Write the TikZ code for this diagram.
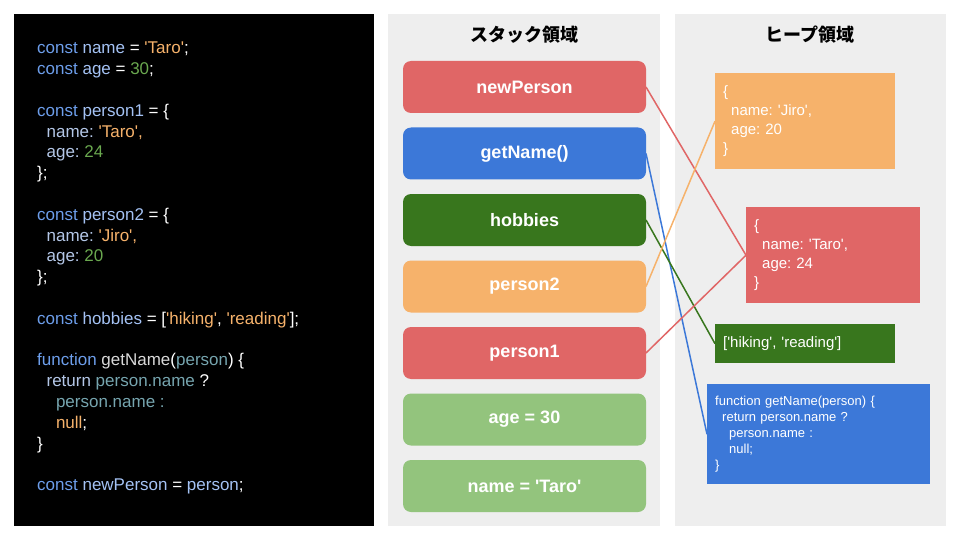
\documentclass[tikz,border=0pt]{standalone}
\usepackage{xcolor}
\usepackage{fontspec}
\setmainfont{Liberation Sans}
\newfontfamily\jpfont{Noto Sans CJK JP}
\usepackage{tikz}
\usetikzlibrary{positioning}
\frenchspacing

\definecolor{panelgray}{HTML}{EEEEEE}
\definecolor{slred}{HTML}{E06666}
\definecolor{slblue}{HTML}{3C78D8}
\definecolor{slgreen}{HTML}{38761D}
\definecolor{slorange}{HTML}{F6B26B}
\definecolor{sllime}{HTML}{93C47D}
\definecolor{ckwc}{HTML}{6D9EEB}
\definecolor{cidc}{HTML}{A4C2F4}
\definecolor{cpropc}{HTML}{B4C7E7}
\definecolor{cstrc}{HTML}{F6B26B}
\definecolor{cnumc}{HTML}{6AA84F}
\definecolor{cparc}{HTML}{76A5AF}
\definecolor{cfnc}{HTML}{D9D9D9}

\newcommand{\sqt}{\textquotesingle}
\newcommand{\ckw}[1]{\textcolor{ckwc}{#1}}
\newcommand{\cid}[1]{\textcolor{cidc}{#1}}
\newcommand{\cprop}[1]{\textcolor{cpropc}{#1}}
\newcommand{\cstr}[1]{\textcolor{cstrc}{#1}}
\newcommand{\cnum}[1]{\textcolor{cnumc}{#1}}
\newcommand{\cpar}[1]{\textcolor{cparc}{#1}}
\newcommand{\cfn}[1]{\textcolor{cfnc}{#1}}
\newcommand{\ind}{\hspace*{9.4pt}}

\tikzstyle{ref} = [line width=1.5pt]
\tikzstyle{slot} = [rectangle, rounded corners=8pt, minimum width=243pt, minimum height=52pt, outer sep=0pt, text centered, text=white, font=\fontsize{18}{20}\selectfont\bfseries]
\tikzstyle{obj} = [rectangle, anchor=north west, inner xsep=8pt, inner ysep=0pt, align=left, text=white, font=\fontsize{15}{19}\selectfont]
\tikzstyle{title} = [font=\jpfont\fontsize{18}{22}\selectfont\bfseries]

\begin{document}
\begin{tikzpicture}[x=1pt, y=-1pt]
    \useasboundingbox (0,0) rectangle (960,540);
    % Panels
    \fill[black] (14,14) rectangle (374,526);
    \fill[panelgray] (388,14) rectangle (660,526);
    \fill[panelgray] (675,14) rectangle (946,526);
    \node[title] (stacktitle) at (524,35) {スタック領域};
    \node[title] (heaptitle) at (810,35) {ヒープ領域};

    % Code
    \node[anchor=north west, inner sep=0pt, align=left, text=white, font=\fontsize{17}{20.8}\selectfont] (code) at (37,42) {%
        \ckw{const} \cid{name} = \cstr{\sqt Taro\sqt};\\
        \ckw{const} \cid{age} = \cnum{30};\\
        \mbox{}\\
        \ckw{const} \cid{person1} = \{\\
        \ind\cprop{name:} \cstr{\sqt Taro\sqt,}\\
        \ind\cprop{age:} \cnum{24}\\
        \};\\
        \mbox{}\\
        \ckw{const} \cid{person2} = \{\\
        \ind\cprop{name:} \cstr{\sqt Jiro\sqt,}\\
        \ind\cprop{age:} \cnum{20}\\
        \};\\
        \mbox{}\\
        \ckw{const} \cid{hobbies} = [\cstr{\sqt hiking\sqt}, \cstr{\sqt reading\sqt}];\\
        \mbox{}\\
        \ckw{function} \cfn{getName}(\cpar{person}) \{\\
        \ind\cprop{return} \cpar{person.name} ?\\
        \ind\ind\cpar{person.name :}\\
        \ind\ind\cstr{null};\\
        \}\\
        \mbox{}\\
        \ckw{const} \cid{newPerson} = \cid{person};};

    % Stack
    \node[slot, fill=slred] (newperson) at (524.5,87) {newPerson};
    \node[slot, fill=slblue, below=14.5pt of newperson] (getname) {getName()};
    \node[slot, fill=slgreen, below=14.5pt of getname] (hobbies) {hobbies};
    \node[slot, fill=slorange, below=14.5pt of hobbies] (person2) {person2};
    \node[slot, fill=slred, below=14.5pt of person2] (person1) {person1};
    \node[slot, fill=sllime, below=14.5pt of person1] (age) {age = 30};
    \node[slot, fill=sllime, below=14.5pt of age] (name) {name = \sqt Taro\sqt};

    % Heap
    \node[obj, fill=slorange, text width=164pt, minimum height=96pt] (jiro) at (715,73) {\{\\\ind\kern-1.4pt name: \sqt Jiro\sqt,\\\ind\kern-1.4pt age: 20\\\}};
    \node[obj, fill=slred, text width=158pt, minimum height=96pt] (taro) at (746,207) {\{\\\ind\kern-1.4pt name: \sqt Taro\sqt,\\\ind\kern-1.4pt age: 24\\\}};
    \node[obj, fill=slgreen, text width=164pt, minimum height=39pt] (list) at (715,324) {[\sqt hiking\sqt, \sqt reading\sqt]};
    \node[obj, fill=slblue, text width=207pt, minimum height=100pt, font=\fontsize{13}{16.2}\selectfont] (func) at (707,384) {function getName(person) \{\\\hspace*{7pt}return person.name ?\\\hspace*{14pt}person.name :\\\hspace*{14pt}null;\\\}};

    % References
    \draw[ref, slred] (newperson.east) -- (taro.west);
    \draw[ref, slblue] (getname.east) -- (func.west);
    \draw[ref, slgreen] (hobbies.east) -- (list.west);
    \draw[ref, slorange] (person2.east) -- (jiro.west);
    \draw[ref, slred] (person1.east) -- (taro.west);
\end{tikzpicture}
\end{document}
